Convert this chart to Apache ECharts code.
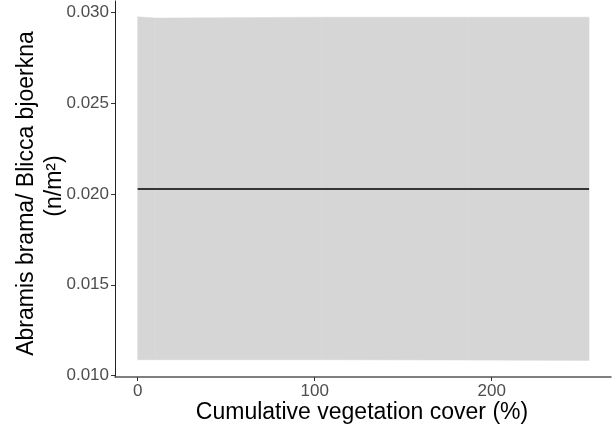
<!DOCTYPE html>
<html>
<head>
<meta charset="utf-8">
<script src="https://cdn.jsdelivr.net/npm/echarts@6/dist/echarts.min.js"></script>
<style>
html,body{margin:0;padding:0;background:#fff;}
#chart{width:614px;height:432px;}
</style>
</head>
<body>
<div id="chart"></div>
<script>
// Data
var coverX = [0, 10, 104, 187, 255];
var lowerCI = [0.01088, 0.01088, 0.01088, 0.01086, 0.01084];
var upperCI = [0.02973, 0.02966, 0.02971, 0.02971, 0.02971];
var fitLine = [0.02027, 0.02027, 0.02027, 0.02027, 0.02027];
var xTicks = [0, 100, 200];
var yTicks = [0.010, 0.015, 0.020, 0.025, 0.030];
var xTitle = 'Cumulative vegetation cover (%)';
var yTitle1 = 'Abramis brama/ Blicca bjoerkna';
var yTitle2 = '(n/m\u00B2)';

var FONT = '"Liberation Sans", Arial, sans-serif';
var chart = echarts.init(document.getElementById('chart'), null, {renderer: 'canvas'});

// ribbon segments: [x0, lo0, hi0, x1, lo1, hi1]
var bandSegs = [];
for (var i = 0; i < coverX.length - 1; i++) {
  bandSegs.push([coverX[i], lowerCI[i], upperCI[i], coverX[i + 1], lowerCI[i + 1], upperCI[i + 1]]);
}
var fitData = coverX.map(function (x, i) { return [x, fitLine[i]]; });

chart.setOption({
  animation: false,
  backgroundColor: '#ffffff',
  grid: {left: 115, right: 3, top: 1, bottom: 55, containLabel: false},
  xAxis: {
    type: 'value',
    min: -12.8,
    max: 267.4,
    splitLine: {show: false},
    axisLine: {show: true, onZero: false, lineStyle: {color: '#555555', width: 1.5}},
    axisTick: {show: true, length: 4, customValues: xTicks, lineStyle: {color: '#333333', width: 1}},
    axisLabel: {show: true, customValues: xTicks, margin: 6, color: '#4d4d4d', fontSize: 17, fontFamily: FONT}
  },
  yAxis: {
    type: 'value',
    min: 0.00993,
    max: 0.0306,
    splitLine: {show: false},
    axisLine: {show: true, onZero: false, lineStyle: {color: '#222222', width: 1}},
    axisTick: {show: true, length: 4, customValues: yTicks, lineStyle: {color: '#333333', width: 1}},
    axisLabel: {
      show: true, customValues: yTicks, margin: 6, color: '#4d4d4d', fontSize: 17, fontFamily: FONT,
      formatter: function (v) { return v.toFixed(3); }
    }
  },
  graphic: [
    {type: 'text', x: 27, y: 193.5, rotation: Math.PI / 2,
     style: {text: yTitle1, fill: '#000', font: '23px ' + FONT, align: 'center', verticalAlign: 'middle'}},
    {type: 'text', x: 55, y: 186, rotation: Math.PI / 2,
     style: {text: yTitle2, fill: '#000', font: '23px ' + FONT, align: 'center', verticalAlign: 'middle'}},
    {type: 'text', x: 362, y: 413,
     style: {text: xTitle, fill: '#000', font: '23px ' + FONT, align: 'center', verticalAlign: 'middle'}}
  ],
  series: [
    {
      type: 'custom', silent: true, data: bandSegs,
      encode: {x: [0, 3], y: [1, 2, 4, 5]},
      renderItem: function (params, api) {
        var a = api.coord([api.value(0), api.value(1)]);
        var b = api.coord([api.value(0), api.value(2)]);
        var c = api.coord([api.value(3), api.value(5)]);
        var d = api.coord([api.value(3), api.value(4)]);
        return {type: 'polygon', shape: {points: [a, b, c, d]},
                style: {fill: '#d6d6d6', stroke: '#d6d6d6', lineWidth: 0.5}};
      }
    },
    {type: 'line', data: fitData, symbol: 'none', silent: true, z: 5,
     lineStyle: {color: '#000000', width: 1.5}}
  ]
});
</script>
</body>
</html>
